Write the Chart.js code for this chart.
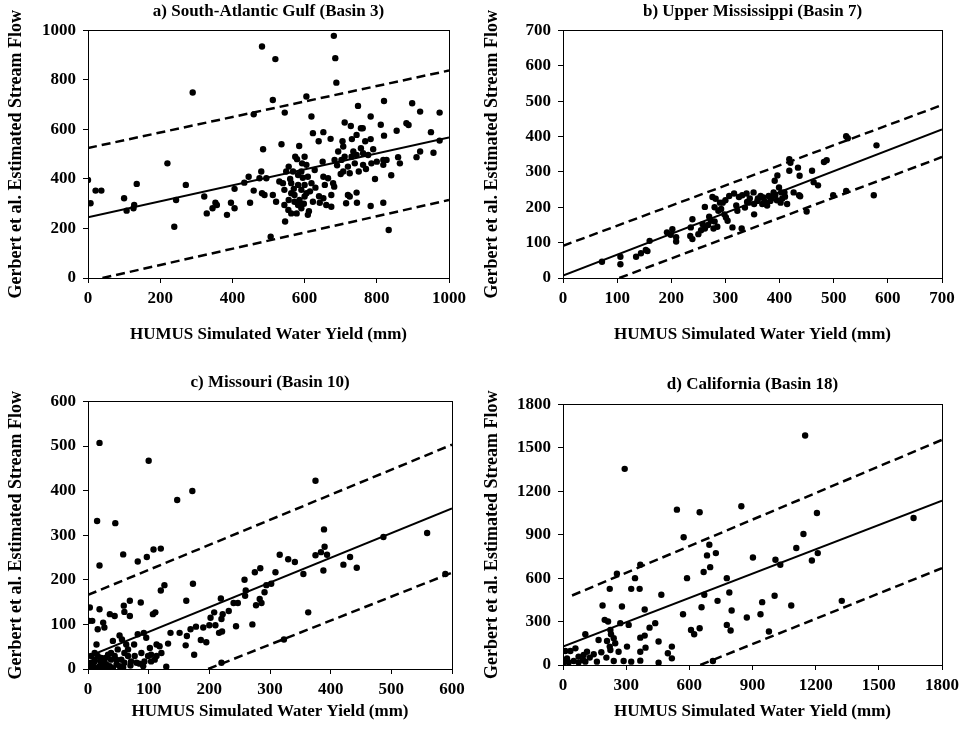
<!DOCTYPE html>
<html>
<head>
<meta charset="utf-8">
<script src="https://cdn.jsdelivr.net/npm/chart.js@4.4.1/dist/chart.umd.min.js"></script>
<style>
  body { margin: 0; background: #fff; width: 963px; height: 738px; position: relative; overflow: hidden; }
  .panel { position: absolute; }
</style>
</head>
<body>
<div class="panel" style="left:0;top:0;width:470px;height:348px"><canvas id="chartA"></canvas></div>
<div class="panel" style="left:476px;top:0;width:487px;height:348px"><canvas id="chartB"></canvas></div>
<div class="panel" style="left:0;top:371px;width:470px;height:354px"><canvas id="chartC"></canvas></div>
<div class="panel" style="left:476px;top:374px;width:487px;height:351px"><canvas id="chartD"></canvas></div>
<script>
// ---------------- DATA ----------------
const X_TITLE = 'HUMUS Simulated Water Yield (mm)';
const Y_TITLE = 'Gerbert et al. Estimated Stream Flow';

// a) South-Atlantic Gulf (Basin 3)
const basin3Points = [
  [681,978],[482,935],[519,884],[685,888],[688,789],[290,749],
  [512,719],[605,733],[459,661],[545,668],[619,652],[748,695],[820,715],[898,706],[920,672],[974,668],[783,652],
  [711,628],[728,614],[756,605],[761,605],[811,619],[882,625],[888,618],[855,595],[820,575],[950,589],[623,585],
  [652,589],[672,562],[639,552],[536,540],[585,533],[485,520],[705,552],[731,561],[744,578],[768,552],[783,561],
  [790,520],[756,524],[735,511],[707,531],[693,511],
  [683,477],[702,477],[711,490],[730,490],[744,497],[762,504],[776,497],[739,463],[720,450],[707,430],[725,423],
  [762,457],[785,463],[818,477],[827,477],[818,457],[859,488],[864,463],[910,488],[920,511],[957,506],[974,555],
  [574,490],[579,480],[600,490],[593,463],[605,457],[556,450],[549,430],[568,430],[591,430],[628,436],[609,409],
  [582,416],[540,383],[563,383],[582,376],[600,376],[619,383],[544,356],[563,342],[572,335],[591,356],[605,342],
  [556,315],[572,308],[586,315],[600,329],[544,295],[582,295],[591,282],[563,261],[578,261],[609,255],[546,228],
  [623,308],[642,304],[652,322],[660,295],[674,335],[674,288],[682,369],[679,383],[652,409],[665,403],[656,376],
  [720,335],[725,329],[744,345],[745,304],[715,302],[783,291],[818,304],[833,194],[506,167],[521,308],[512,335],
  [489,335],[482,342],[475,403],[480,430],[494,403],[459,353],[449,304],[445,409],[433,385],[406,360],[396,304],
  [406,282],[385,255],[353,304],[357,295],[345,282],[329,261],[322,329],[271,376],[244,315],[239,207],[220,463],
  [135,380],[128,295],[126,282],[107,272],[100,322],[37,353],[21,353],[7,302],[0,396],
  [560,400],[595,405],[615,350],[630,365],[570,360],[598,300],[612,270],[555,275],[640,330],[690,455],[700,420],
  [750,430],[770,440],[800,470],[795,400],[840,415],[650,470],[530,390]
];
const basin3Fit   = [[0,245],[1000,568]];
const basin3Upper = [[0,525],[1000,838]];
const basin3Lower = [[40,0],[1000,315]];

// b) Upper Mississippi (Basin 7)
const basin7Points = [
  [72,46],[106,60],[106,39],[135,60],[144,70],[153,79],[156,76],[160,105],[192,129],[199,122],[202,138],[209,115],
  [209,103],[236,143],[239,166],[235,119],[239,110],[250,124],[258,152],[262,140],[262,201],[270,173],[276,229],
  [273,162],[278,140],[282,224],[285,145],[287,190],[290,213],[295,213],[301,171],[304,162],[307,232],[313,143],
  [316,239],[322,190],[325,229],[331,234],[330,140],[336,199],[339,239],[343,213],[352,242],[353,209],[353,180],
  [359,218],[365,232],[368,209],[372,218],[377,205],[380,232],[383,218],[389,242],[391,275],[396,290],[399,256],
  [392,234],[402,213],[403,242],[409,242],[414,209],[418,336],[420,326],[418,303],[426,242],[434,312],[437,289],
  [436,234],[438,231],[450,188],[460,303],[463,271],[471,262],[482,328],[487,333],[499,234],[523,401],[526,395],
  [523,246],[574,234],[579,375],
  [280,200],[300,220],[320,205],[345,225],[360,225],[370,228],[385,225],[395,220],[405,225],[298,180],[268,150],
  [280,160],[255,135],[292,195],[340,215],[375,212],[410,230]
];
const basin7Fit   = [[0,7],[700,420]];
const basin7Upper = [[0,91],[700,489]];
const basin7Lower = [[104,0],[700,342]];

// c) Missouri (Basin 10)
const basin10Points = [
  [19,507],[100,467],[375,422],[172,399],[147,379],[15,332],[45,327],[19,232],[58,257],[82,241],[97,251],[108,268],
  [120,270],[389,313],[559,305],[487,296],[589,213],[323,66],[220,14],[363,127],
  [390,274],[384,262],[375,255],[394,256],[388,221],[432,251],[421,234],[443,227],[355,213],[341,240],[330,246],
  [316,256],[309,217],[302,191],[294,188],[291,172],[286,148],[277,143],[283,157],[284,226],[275,217],[258,200],
  [260,176],[259,164],[244,96],[271,100],[247,148],[240,148],[232,130],[222,123],[220,112],[210,98],[219,158],
  [208,127],[202,115],[200,98],[216,81],[221,84],[190,93],[178,95],[169,89],[163,74],[161,53],[175,32],[186,65],
  [195,60],[162,153],[173,191],[136,81],[151,81],[132,57],[126,188],[120,176],[111,127],[107,123],[113,55],[104,32],
  [87,149],[69,153],[69,119],[60,128],[59,142],[36,123],[44,119],[19,134],[3,138],[7,108],[25,104],[27,93],[16,89],
  [14,55],[2,108],
  [41,63],[52,75],[56,66],[63,55],[66,44],[76,55],[82,78],[92,81],[96,70],[102,47],[104,17],[110,21],[91,6],[77,29],
  [71,17],[60,36],[49,44],[44,29],[38,21],[33,32],[27,17],[22,25],[16,29],[11,21],[5,14],[3,10],[8,6],[14,2],[19,6],
  [25,2],[30,10],[36,6],[41,2],[47,10],[52,6],[55,21],[66,29],[88,36],[129,5],[1,2],[5,29],[11,36],[22,10],[29,25],
  [38,36],[47,21],[60,14],[80,14],[93,17],[99,29],[118,51],[121,36],[113,29],[10,15],[20,18],[33,5],[58,4],[70,8],
  [85,12]
];
const basin10Fit   = [[0,28],[600,360]];
const basin10Upper = [[0,166],[600,503]];
const basin10Lower = [[198,0],[600,216]];

// d) California (Basin 18)
const basin18Points = [
  [1150,1585],[293,1355],[541,1073],[649,1055],[847,1096],[1206,1050],[1665,1015],[573,882],[1142,905],[1108,808],
  [1210,773],[1182,722],[902,743],[1009,727],[1032,692],[695,831],[684,757],[726,773],[699,676],[668,642],[589,600],
  [778,600],[342,600],[256,630],[367,692],[324,526],[364,526],[222,526],[671,485],[790,501],[467,485],[734,443],
  [801,376],[1005,478],[946,434],[1084,411],[1324,443],[938,351],[873,328],[978,231],[658,399],[570,351],[608,242],
  [623,212],[649,254],[778,277],[796,238],[188,411],[280,404],[388,383],[198,312],[214,300],[272,289],[312,277],
  [438,289],[411,258],[225,242],[228,212],[106,212],[169,173],[209,166],[241,185],[304,127],[264,92],[248,150],
  [222,127],[182,88],[225,104],[367,189],[388,203],[392,120],[367,92],[454,162],[517,127],[498,81],[517,46],[454,16],
  [367,30],[324,23],[288,28],[241,28],[206,51],[161,23],[146,74],[114,92],[98,69],[127,51],[95,35],[74,58],[106,23],
  [59,115],[11,97],[35,97],[3,18],[27,18],[51,28],[74,18],[19,46],[712,28]
];
const basin18Fit   = [[0,127],[1800,1135]];
const basin18Upper = [[43,480],[1800,1555]];
const basin18Lower = [[652,0],[1800,669]];

// ---------------- STYLE ----------------
const FONT = "'Liberation Serif', 'Times New Roman', serif";
Chart.defaults.font.family = FONT;
Chart.defaults.color = '#000';

// thin frame round the plot area (Excel style box)
const frameBox = {
  id: 'frameBox',
  afterDraw(chart) {
    const { ctx, chartArea: a } = chart;
    ctx.save();
    ctx.strokeStyle = '#000';
    ctx.lineWidth = 1;
    ctx.strokeRect(Math.round(a.left) + 0.5, Math.round(a.top) + 0.5,
                   Math.round(a.right - a.left), Math.round(a.bottom - a.top));
    ctx.restore();
  }
};

const toXY = arr => arr.map(p => ({ x: p[0], y: p[1] }));
const plain = v => String(v); // no thousands separator, like the original

function makePanel(id, o) {
  const lineDs = (pts, dashed) => ({
    type: 'line',
    data: toXY(pts),
    borderColor: '#000',
    borderWidth: dashed ? 2.5 : 2,
    borderDash: dashed ? [9, 5] : [],
    pointRadius: 0,
    showLine: true,
    fill: false,
    order: 0
  });

  return new Chart(document.getElementById(id), {
    type: 'scatter',
    data: {
      datasets: [
        { data: toXY(o.points), backgroundColor: '#000', borderColor: '#000',
          pointRadius: 3.2, pointBorderWidth: 0, order: 1 },
        lineDs(o.fit, false),
        lineDs(o.upper, true),
        lineDs(o.lower, true)
      ]
    },
    options: {
      responsive: true,
      maintainAspectRatio: false,
      animation: false,
      layout: { padding: { left: 0, right: o.padRight, top: 0, bottom: 0 } },
      plugins: {
        legend: { display: false },
        tooltip: { enabled: false },
        title: {
          display: true, text: o.title, fullSize: false,
          font: { size: 17, weight: 'bold' }, color: '#000',
          padding: o.titlePad
        }
      },
      scales: {
        x: {
          type: 'linear', min: 0, max: o.xMax,
          ticks: { stepSize: o.xStep, callback: plain, font: { size: 17, weight: 'bold' }, color: '#000',
                   padding: 5, maxRotation: 0 },
          grid: { drawOnChartArea: false, tickLength: 5, color: '#000' },
          border: { color: '#000', width: 1 },
          title: { display: true, text: X_TITLE, font: { size: 17, weight: 'bold' }, color: '#000',
                   padding: { top: 0, bottom: 3 } },
          afterFit(s) { s.height = o.xAxisH; s.paddingLeft = 0; s.paddingRight = 0; }
        },
        y: {
          type: 'linear', min: 0, max: o.yMax,
          ticks: { stepSize: o.yStep, callback: plain, font: { size: 17, weight: 'bold' }, color: '#000', padding: 7 },
          grid: { drawOnChartArea: false, tickLength: 5, color: '#000' },
          border: { color: '#000', width: 1 },
          title: { display: true, text: Y_TITLE, font: { size: 18, weight: 'bold' }, color: '#000',
                   padding: { top: 6, bottom: 0 } },
          afterFit(s) { s.width = o.yAxisW; s.paddingTop = 0; s.paddingBottom = 0; }
        }
      }
    },
    plugins: [frameBox]
  });
}

// ---------------- INIT ----------------
makePanel('chartA', {
  title: 'a) South-Atlantic Gulf (Basin 3)', points: basin3Points,
  fit: basin3Fit, upper: basin3Upper, lower: basin3Lower,
  xMax: 1000, xStep: 200, yMax: 1000, yStep: 200,
  yAxisW: 88, xAxisH: 70, padRight: 21, titlePad: { top: 1, bottom: 9 }
});
makePanel('chartB', {
  title: 'b) Upper Mississippi (Basin 7)', points: basin7Points,
  fit: basin7Fit, upper: basin7Upper, lower: basin7Lower,
  xMax: 700, xStep: 100, yMax: 700, yStep: 100,
  yAxisW: 87, xAxisH: 70, padRight: 21, titlePad: { top: 1, bottom: 9 }
});
makePanel('chartC', {
  title: 'c) Missouri (Basin 10)', points: basin10Points,
  fit: basin10Fit, upper: basin10Upper, lower: basin10Lower,
  xMax: 600, xStep: 100, yMax: 600, yStep: 100,
  yAxisW: 88, xAxisH: 56, padRight: 18, titlePad: { top: 1, bottom: 9 }
});
makePanel('chartD', {
  title: 'd) California (Basin 18)', points: basin18Points,
  fit: basin18Fit, upper: basin18Upper, lower: basin18Lower,
  xMax: 1800, xStep: 300, yMax: 1800, yStep: 300,
  yAxisW: 87, xAxisH: 60, padRight: 21, titlePad: { top: 0, bottom: 10 }
});
</script>
</body>
</html>
